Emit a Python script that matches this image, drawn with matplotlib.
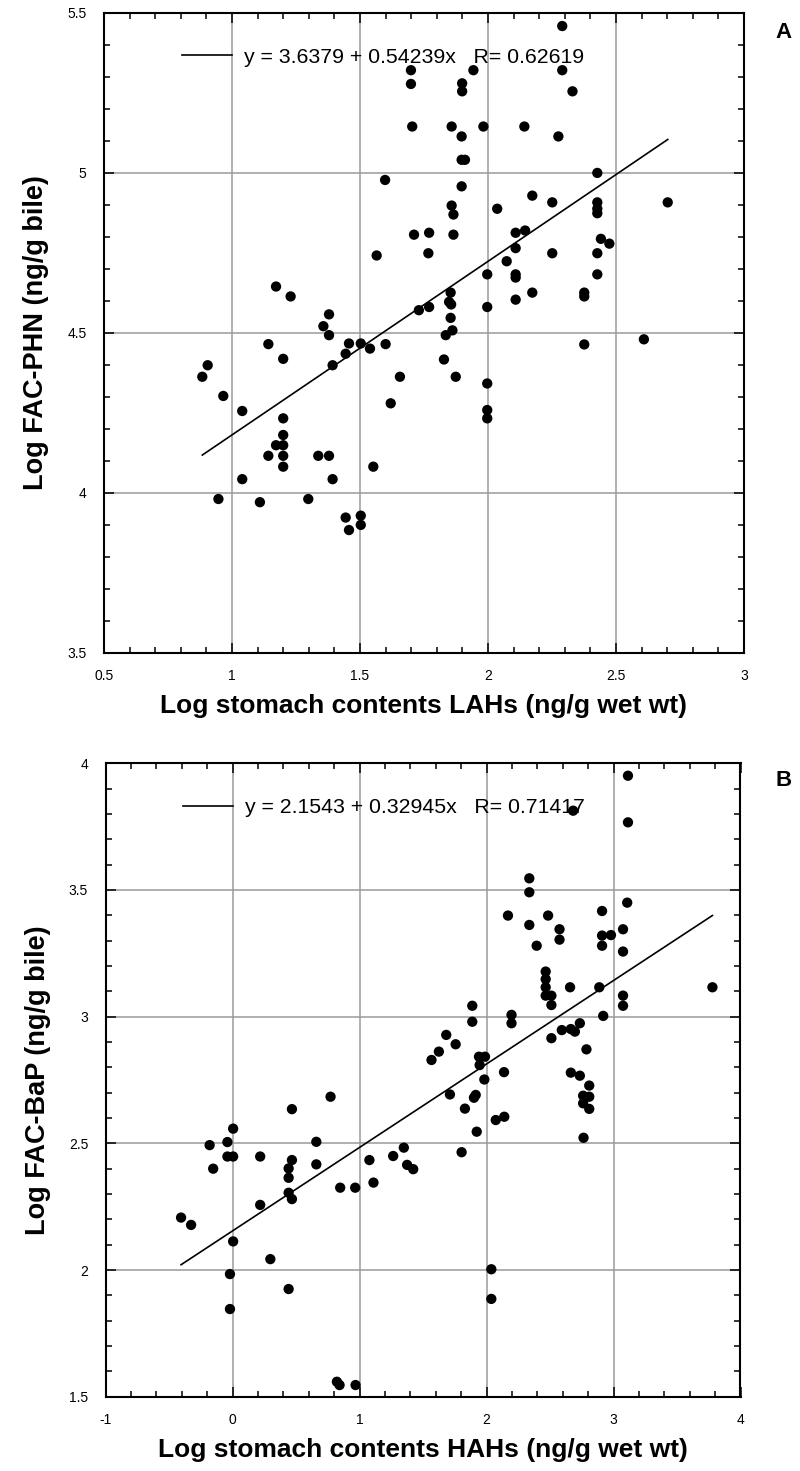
import matplotlib
matplotlib.use("Agg")
import matplotlib.pyplot as plt
from matplotlib.ticker import MultipleLocator, FuncFormatter
import numpy as np

plt.rcParams['font.family'] = ['Liberation Sans', 'DejaVu Sans']
plt.rcParams['axes.unicode_minus'] = False

# ---------------- Panel A data ----------------
a_x = [0.884, 0.905, 0.947, 0.966, 1.04, 1.04, 1.109, 1.142, 1.142, 1.172, 1.172,
       1.2, 1.2, 1.2, 1.2, 1.2, 1.2, 1.229, 1.298, 1.337, 1.379, 1.357, 1.379, 1.379,
       1.393, 1.393, 1.444, 1.444, 1.457, 1.457, 1.503, 1.503, 1.503, 1.539, 1.552,
       1.565, 1.598, 1.6, 1.62, 1.656, 1.699, 1.699, 1.704, 1.711, 1.73, 1.77, 1.77,
       1.767, 1.828, 1.835, 1.848, 1.856, 1.854, 1.854, 1.858, 1.858, 1.865, 1.861,
       1.865, 1.874, 1.897, 1.897, 1.91, 1.897, 1.899, 1.899, 1.943, 1.982, 1.997,
       1.997, 1.997, 1.997, 1.997, 2.036, 2.073, 2.108, 2.145, 2.108, 2.108, 2.108,
       2.108, 2.142, 2.173, 2.173, 2.251, 2.251, 2.275, 2.29, 2.29, 2.33, 2.376,
       2.376, 2.376, 2.427, 2.427, 2.427, 2.427, 2.427, 2.427, 2.441, 2.474, 2.609,
       2.702]
a_y = [4.362, 4.398, 3.98, 4.302, 4.255, 4.042, 3.97, 4.464, 4.115, 4.644, 4.148,
       4.418, 4.232, 4.18, 4.148, 4.115, 4.081, 4.613, 3.98, 4.115, 4.115, 4.52, 4.557,
       4.492, 4.398, 4.042, 4.434, 3.922, 4.466, 3.883, 4.466, 3.928, 3.899, 4.45,
       4.081, 4.741, 4.977, 4.464, 4.279, 4.362, 5.32, 5.277, 5.144, 4.806, 4.57, 4.58,
       4.812, 4.748, 4.416, 4.492, 4.596, 4.588, 4.625, 4.546, 5.144, 4.897, 4.869,
       4.507, 4.806, 4.362, 5.113, 5.04, 5.04, 4.957, 5.279, 5.254, 5.32, 5.144, 4.682,
       4.58, 4.341, 4.258, 4.232, 4.887, 4.723, 4.812, 4.819, 4.764, 4.682, 4.672,
       4.603, 5.144, 4.928, 4.625, 4.907, 4.748, 5.113, 5.458, 5.32, 5.254, 4.625,
       4.613, 4.463, 4.999, 4.907, 4.887, 4.873, 4.748, 4.682, 4.793, 4.778, 4.479,
       4.907]
a_fit = (3.6379, 0.54239)
a_r = 0.62619

# ---------------- Panel B data ----------------
b_x = [-0.405, -0.326, -0.18, -0.152, -0.04, -0.04, 0.005, 0.005, 0.005, -0.02, -0.02,
       0.218, 0.218, 0.298, 0.442, 0.442, 0.442, 0.442, 0.468, 0.468, 0.468, 0.66,
       0.66, 0.772, 0.822, 0.843, 0.969, 0.848, 0.966, 1.078, 1.11, 1.265, 1.349,
       1.375, 1.423,
       1.567, 1.625, 1.683, 1.757, 1.712, 1.804, 1.83, 1.888, 1.888, 1.901, 1.915,
       1.923, 1.941, 1.988, 1.946, 1.983, 2.038, 2.038, 2.073, 2.14, 2.138, 2.197,
       2.197, 2.169, 2.337, 2.337, 2.337, 2.395, 2.485, 2.466, 2.466, 2.466, 2.466,
       2.511, 2.511, 2.511, 2.575, 2.575, 2.593, 2.664, 2.696, 2.735, 2.658, 2.682,
       2.664, 2.735, 2.787, 2.809, 2.761, 2.809, 2.761, 2.809, 2.764, 2.888, 2.91,
       2.91, 2.98, 2.91, 2.919, 3.075, 3.075, 3.075, 3.075, 3.108, 3.114, 3.114,
       3.779]
b_y = [2.207, 2.178, 2.493, 2.40, 2.505, 2.448, 2.448, 2.558, 2.113, 1.984, 1.846,
       2.448, 2.257, 2.043, 1.925, 2.401, 2.364, 2.305, 2.28, 2.434, 2.635, 2.506,
       2.417, 2.684, 1.559, 1.546, 1.546, 2.325, 2.325, 2.434, 2.345, 2.45, 2.483,
       2.415, 2.398,
       2.829, 2.862, 2.928, 2.891, 2.693, 2.465, 2.637, 3.043, 2.98, 2.68, 2.691,
       2.546, 2.842, 2.842, 2.809, 2.752, 2.003, 1.886, 2.592, 2.605, 2.781, 3.007,
       2.974, 3.399, 3.546, 3.491, 3.362, 3.28, 3.399, 3.178, 3.148, 3.116, 3.083,
       3.083, 3.046, 2.915, 3.345, 3.304, 2.947, 2.951, 2.941, 2.974, 3.116, 3.813,
       2.779, 2.767, 2.871, 2.728, 2.688, 2.684, 2.658, 2.636, 2.522, 3.116, 3.417,
       3.32, 3.322, 3.28, 3.003, 3.345, 3.257, 3.083, 3.043, 3.45, 3.951, 3.767,
       3.116]
b_fit = (2.1543, 0.32945)
b_r = 0.71417

W, H = 800, 1471
fig = plt.figure(figsize=(W / 100, H / 100), dpi=100)

def make_axes(px_left, px_right, px_top, px_bottom):
    return fig.add_axes([px_left / W, 1 - px_bottom / H,
                         (px_right - px_left) / W, (px_bottom - px_top) / H])

axA = make_axes(104, 744, 12.6, 652.6)
axB = make_axes(105.5, 740.5, 763.3, 1396.7)

def fmt(v, pos):
    return ('%g' % v)

def style(ax, xlim, ylim, xmaj, xmin, ymaj, ymin):
    ax.set_xlim(*xlim)
    ax.set_ylim(*ylim)
    ax.xaxis.set_major_locator(MultipleLocator(xmaj))
    ax.xaxis.set_minor_locator(MultipleLocator(xmin))
    ax.yaxis.set_major_locator(MultipleLocator(ymaj))
    ax.yaxis.set_minor_locator(MultipleLocator(ymin))
    ax.xaxis.set_major_formatter(FuncFormatter(fmt))
    ax.yaxis.set_major_formatter(FuncFormatter(fmt))
    ax.tick_params(which='both', direction='in', top=True, right=True,
                   colors='black', labelsize=10, width=1.1)
    ax.tick_params(which='major', length=7, pad=12)
    ax.tick_params(which='minor', length=4)
    ax.tick_params(axis='y', which='major', pad=12.5)
    ax.grid(True, which='major', color='#9a9a9a', lw=1.1)
    ax.set_axisbelow(True)
    for s in ax.spines.values():
        s.set_linewidth(1.5)
        s.set_color('black')

def panel(ax, xs, ys, fit, r, xlabel, ylabel, letter, letter_y):
    xs = np.asarray(xs); ys = np.asarray(ys)
    ax.scatter(xs, ys, s=55, c='black', edgecolors='none', zorder=3)
    xl = np.array([xs.min(), xs.max()])
    a, b = fit
    ax.plot(xl, a + b * xl, color='black', lw=1.2, zorder=2,
            label='y = %s + %sx   R= %s' % (a, b, r))
    ax.legend(loc='center left', bbox_to_anchor=(0.122, 0.93),
              frameon=False, fontsize=15.3, handlelength=2.35,
              handletextpad=0.55, borderpad=0, borderaxespad=0)
    ax.set_xlabel(xlabel, fontsize=19, fontweight='bold', labelpad=8)
    ax.set_ylabel(ylabel, fontsize=19.5, fontweight='bold', labelpad=13)
    fig.text(784 / W, 1 - letter_y / H, letter, fontsize=16, fontweight='bold',
             ha='center', va='center')

style(axA, (0.5, 3), (3.5, 5.5), 0.5, 0.1, 0.5, 0.1)
style(axB, (-1, 4), (1.5, 4), 1, 0.2, 0.5, 0.1)
panel(axA, a_x, a_y, a_fit, a_r, 'Log stomach contents LAHs (ng/g wet wt)',
      'Log FAC-PHN (ng/g bile)', 'A', 32)
panel(axB, b_x, b_y, b_fit, b_r, 'Log stomach contents HAHs (ng/g wet wt)',
      'Log FAC-BaP (ng/g bile)', 'B', 780)

fig.savefig('out.png', dpi=100)
